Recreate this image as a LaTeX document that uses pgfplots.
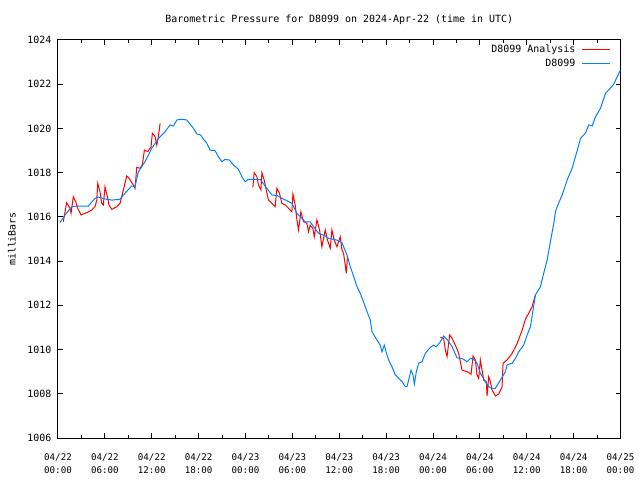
\documentclass[border=0pt]{standalone}
\usepackage{fontspec}
\setmainfont{DejaVu Sans Mono}
\usepackage{pgfplots}
\pgfplotsset{compat=1.18}
\definecolor{gpred}{RGB}{255,0,0}
\definecolor{gpblue}{RGB}{0,128,255}

\begin{document}
\begin{tikzpicture}
\useasboundingbox (-58bp,-42bp) rectangle (582bp,438bp);
\begin{axis}[
    scale only axis,
    width=562.5bp, height=398bp,
    xmin=0, xmax=72,
    ymin=1006, ymax=1024,
    xtick={0,6,...,72},
    xticklabels={04/22\\00:00, 04/22\\06:00, 04/22\\12:00, 04/22\\18:00,
                 04/23\\00:00, 04/23\\06:00, 04/23\\12:00, 04/23\\18:00,
                 04/24\\00:00, 04/24\\06:00, 04/24\\12:00, 04/24\\18:00,
                 04/25\\00:00},
    minor x tick num=1,
    ytick={1006,1008,...,1024},
    /pgf/number format/1000 sep={},
    /pgf/number format/assume math mode=true,
    major tick length=5bp,
    minor tick length=3bp,
    axis line style={line width=1bp},
    every tick/.style={black, line width=1bp},
    font=\fontsize{10}{12}\selectfont,
    yticklabel style={anchor=east, inner sep=0pt, xshift=-6.5bp},
    xticklabel style={align=center, anchor=north, inner sep=0pt, yshift=-15bp,
                      font=\fontsize{9.2}{14}\selectfont},
    title={Barometric Pressure for D8099 on 2024-Apr-22 (time in UTC)},
    title style={at={(0.5,1)}, anchor=base, yshift=11.5bp, inner sep=0pt},
    ylabel={milliBars},
    ylabel style={at={(axis description cs:0,0.5)}, anchor=center, yshift=46bp},
    unbounded coords=jump,
    legend style={draw=none, fill=none, at={(1,1)}, anchor=north east,
                  xshift=-10bp, yshift=-3bp, inner sep=0pt,
                  legend cell align=right, row sep=1bp,
                  nodes={inner sep=2bp},
                  /tikz/every odd column/.append style={column sep=4bp}},
    legend plot pos=right,
    legend image code/.code={\draw[#1] (0bp,0bp) -- (28bp,0bp);},
]
\addplot[color=gpred, line width=1bp] coordinates {
    (0.68,1015.78) (1.11,1016.64) (1.54,1016.39) (1.67,1016.16) (1.96,1016.91)
    (2.27,1016.69) (2.52,1016.39) (2.95,1016.09) (3.68,1016.19) (4.32,1016.31)
    (4.74,1016.46) (4.96,1016.76) (5.09,1017.52) (5.38,1017.14) (5.60,1016.61)
    (5.80,1016.54) (6.02,1017.36) (6.37,1016.84) (6.53,1016.54) (6.88,1016.34)
    (7.52,1016.46) (7.94,1016.61) (8.37,1017.22) (8.80,1017.85) (9.10,1017.74)
    (9.65,1017.44) (9.86,1017.29) (10.08,1018.24) (10.51,1018.20) (10.80,1018.35)
    (11.06,1019.02) (11.49,1018.95) (11.91,1019.17) (12.08,1019.78) (12.43,1019.63)
    (12.64,1019.25) (12.85,1019.63) (13.07,1020.23)
    (19,nan)
    (24.94,1017.34) (25.11,1018.00) (25.46,1017.82) (25.66,1017.44) (25.97,1017.22)
    (26.10,1018.00) (26.39,1017.67) (26.65,1017.22) (26.94,1016.76) (27.16,1016.69)
    (27.58,1016.54) (27.80,1016.46) (28.02,1017.29) (28.35,1017.07) (28.66,1016.61)
    (29.08,1016.54) (29.50,1016.39) (29.94,1016.23) (30.07,1017.03) (30.36,1016.54)
    (30.58,1015.86) (30.79,1015.41) (31.09,1016.23) (31.43,1015.78) (31.86,1015.71)
    (32.07,1015.33) (32.28,1015.63) (32.63,1015.48) (32.80,1015.10) (33.14,1015.86)
    (33.48,1015.41) (33.78,1014.65) (34.21,1015.41) (34.50,1014.95) (34.85,1014.58)
    (35.06,1015.41) (35.36,1014.95) (35.70,1014.65) (36.13,1015.10) (36.35,1014.50)
    (36.55,1014.35) (36.77,1013.82) (36.90,1013.45) (37.06,1014.20)
    (43,nan)
    (48.94,1010.55) (49.36,1010.51) (49.58,1009.98) (49.80,1009.68) (50.13,1010.66)
    (50.44,1010.51) (50.86,1010.20) (51.28,1009.83) (51.72,1009.07) (52.36,1009.00)
    (52.87,1008.89) (53.13,1009.71) (53.42,1009.53) (53.64,1008.85) (53.85,1008.70)
    (54.06,1009.53) (54.28,1009.07) (54.49,1008.62) (54.83,1008.55) (54.92,1007.90)
    (55.13,1008.77) (55.34,1008.55) (55.56,1008.17) (55.99,1007.90) (56.41,1007.99)
    (56.84,1008.32) (56.97,1009.38) (57.48,1009.53) (58.13,1009.83) (58.77,1010.28)
    (59.41,1010.88) (59.83,1011.37) (60.69,1011.94) (61.11,1012.47)
};
\addlegendentry{D8099 Analysis}
\addplot[color=gpblue, line width=1bp] coordinates {
    (0.26,1015.74) (0.90,1016.09) (1.76,1016.46) (2.40,1016.49) (3.88,1016.49)
    (4.74,1016.84) (5.12,1016.90) (6.02,1016.81) (6.88,1016.76) (7.94,1016.80)
    (8.37,1016.99) (9.44,1017.40) (9.86,1017.37) (10.29,1018.04) (11.15,1018.50)
    (12.00,1019.10) (12.85,1019.55) (13.71,1019.85) (14.35,1020.16) (14.77,1020.11)
    (15.21,1020.38) (15.63,1020.41) (16.05,1020.41) (16.49,1020.38) (16.82,1020.23)
    (17.33,1020.01) (17.77,1019.75) (18.28,1019.70) (18.61,1019.51) (19.05,1019.33)
    (19.47,1019.02) (20.11,1018.99) (20.54,1018.72) (20.97,1018.50) (21.39,1018.60)
    (21.95,1018.57) (22.46,1018.35) (23.10,1018.15) (23.53,1017.82) (23.96,1017.59)
    (24.38,1017.70) (25.02,1017.70) (25.88,1017.70) (26.74,1017.29) (27.38,1016.99)
    (28.02,1016.97) (28.66,1016.84) (29.30,1016.73) (29.94,1016.61) (30.58,1016.16)
    (31.22,1015.94) (31.64,1015.78) (32.28,1015.78) (32.71,1015.56) (33.35,1015.26)
    (34.21,1015.14) (34.63,1015.03) (35.70,1014.95) (36.35,1014.83) (36.99,1014.28)
    (37.41,1013.75) (37.85,1013.30) (38.27,1012.84) (38.69,1012.54) (39.11,1012.16)
    (39.55,1011.71) (39.97,1011.34) (40.19,1010.81) (40.83,1010.43) (41.25,1010.20)
    (41.47,1009.90) (41.76,1010.20) (42.02,1009.86) (42.32,1009.53) (42.75,1009.22)
    (43.17,1008.85) (43.60,1008.70) (44.03,1008.55) (44.46,1008.32) (44.67,1008.32)
    (45.19,1009.07) (45.44,1008.85) (45.61,1008.44) (45.87,1009.00) (46.16,1009.38)
    (46.60,1009.45) (47.02,1009.83) (47.66,1010.10) (48.08,1010.20) (48.43,1010.13)
    (48.94,1010.35) (49.36,1010.61) (49.87,1010.43) (50.44,1010.13) (51.08,1009.62)
    (51.72,1009.60) (52.36,1009.45) (52.78,1009.60) (53.21,1009.56) (53.64,1009.38)
    (54.06,1008.93) (54.70,1008.55) (55.13,1008.32) (55.56,1008.25) (55.99,1008.25)
    (56.63,1008.62) (57.27,1009.00) (57.48,1009.30) (58.13,1009.38) (58.55,1009.60)
    (58.97,1009.90) (59.61,1010.20) (60.05,1010.66) (60.47,1011.03) (61.11,1012.47)
    (61.75,1012.84) (62.17,1013.45) (62.61,1014.05) (63.03,1014.88) (63.46,1015.71)
    (63.67,1016.23) (63.89,1016.46) (64.53,1016.99) (65.17,1017.67) (65.81,1018.20)
    (66.23,1018.72) (66.66,1019.25) (66.87,1019.55) (67.51,1019.78) (67.94,1020.16)
    (68.37,1020.11) (68.80,1020.53) (69.44,1020.91) (69.86,1021.36) (70.08,1021.59)
    (70.50,1021.74) (71.14,1022.01) (71.58,1022.34) (72.00,1022.64)
};
\addlegendentry{D8099}
\end{axis}
\end{tikzpicture}
\end{document}
